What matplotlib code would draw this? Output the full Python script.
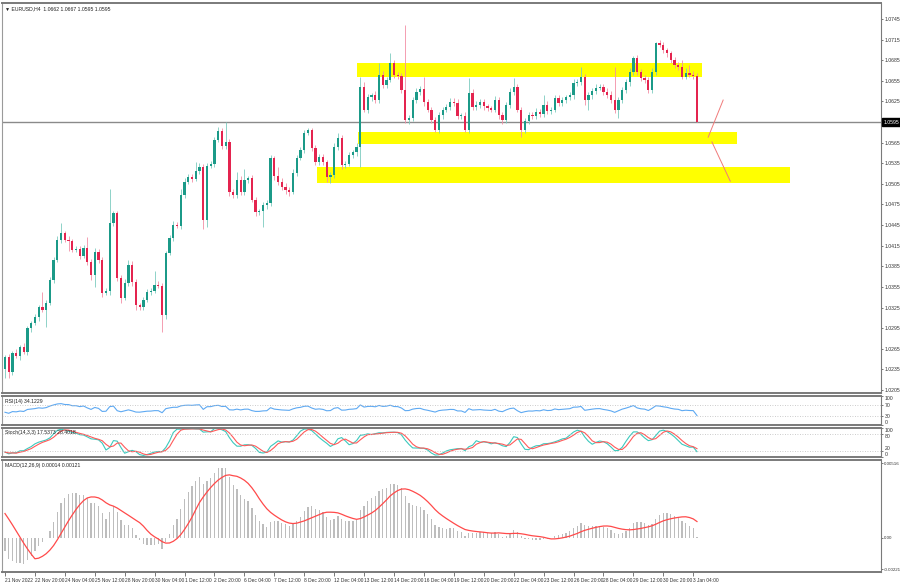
import numpy as np
import pandas as pd
import matplotlib
matplotlib.use("Agg")
import matplotlib.pyplot as plt
from matplotlib.patches import Rectangle

plt.rcParams["font.family"] = ["Liberation Sans", "DejaVu Sans"]

# EURUSD H4 closes, 21 Nov 2022 .. 3 Jan 2023
closes = [
    1.0253, 1.0231, 1.0259, 1.0254, 1.0267, 1.0260, 1.0295, 1.0302, 1.0311, 1.0326,
    1.0321, 1.0332, 1.0365, 1.0394, 1.0423, 1.0433, 1.0423, 1.0422, 1.0409, 1.0410,
    1.0400, 1.0412, 1.0391, 1.0372, 1.0406, 1.0394, 1.0346, 1.0349, 1.0448, 1.0463,
    1.0368, 1.0339, 1.0361, 1.0387, 1.0362, 1.0329, 1.0326, 1.0336, 1.0347, 1.0349,
    1.0358, 1.0357, 1.0314, 1.0404, 1.0426, 1.0445, 1.0444, 1.0489, 1.0508, 1.0515,
    1.0512, 1.0524, 1.0530, 1.0452, 1.0531, 1.0534, 1.0569, 1.0582, 1.0560, 1.0566,
    1.0493, 1.0489, 1.0511, 1.0493, 1.0511, 1.0513, 1.0482, 1.0464, 1.0465, 1.0474,
    1.0477, 1.0543, 1.0516, 1.0508, 1.0500, 1.0496, 1.0493, 1.0521, 1.0543, 1.0554,
    1.0579, 1.0583, 1.0557, 1.0537, 1.0544, 1.0537, 1.0515, 1.0518, 1.0559, 1.0572,
    1.0532, 1.0534, 1.0547, 1.0551, 1.0559, 1.0646, 1.0613, 1.0631, 1.0634, 1.0627,
    1.0663, 1.0649, 1.0656, 1.0681, 1.0663, 1.0662, 1.0642, 1.0598, 1.0601, 1.0627,
    1.0639, 1.0643, 1.0624, 1.0613, 1.0598, 1.0583, 1.0605, 1.0613, 1.0617, 1.0624,
    1.0623, 1.0604, 1.0604, 1.0583, 1.0637, 1.0617, 1.0620, 1.0624, 1.0618, 1.0615,
    1.0613, 1.0627, 1.0605, 1.0598, 1.0620, 1.0639, 1.0646, 1.0613, 1.0583, 1.0596,
    1.0605, 1.0604, 1.0610, 1.0607, 1.0620, 1.0611, 1.0613, 1.0630, 1.0623, 1.0627,
    1.0631, 1.0634, 1.0652, 1.0653, 1.0661, 1.0627, 1.0634, 1.0640, 1.0645, 1.0646,
    1.0639, 1.0634, 1.0627, 1.0613, 1.0627, 1.0642, 1.0653, 1.0668, 1.0688, 1.0668,
    1.0659, 1.0656, 1.0642, 1.0668, 1.0710, 1.0707, 1.0700, 1.0695, 1.0685, 1.0678,
    1.0675, 1.0661, 1.0666, 1.0663, 1.0662, 1.0595,
]
first_open = 1.0235

# wick lengths in pips above / below the candle body
upper_wick = [
    3, 4, 3, 5, 4, 6, 3, 4, 5, 3,
    21, 4, 5, 4, 6, 15, 3, 6, 3, 4,
    5, 4, 16, 4, 6, 4, 4, 5, 50, 3,
    3, 4, 6, 7, 6, 4, 3, 4, 5, 4,
    20, 5, 4, 4, 5, 6, 4, 8, 5, 4,
    4, 13, 5, 4, 5, 5, 4, 6, 5, 29,
    4, 5, 12, 5, 15, 4, 5, 4, 4, 5,
    4, 4, 3, 14, 5, 6, 4, 5, 4, 5,
    4, 4, 3, 4, 5, 4, 3, 4, 5, 7,
    4, 5, 4, 4, 5, 15, 8, 5, 4, 6,
    18, 6, 5, 14, 4, 5, 5, 94, 4, 4,
    5, 4, 18, 5, 4, 4, 5, 4, 4, 6,
    6, 5, 4, 5, 22, 6, 5, 4, 5, 4,
    4, 6, 5, 4, 4, 5, 13, 5, 4, 5,
    5, 4, 5, 4, 14, 5, 4, 4, 5, 4,
    4, 5, 6, 5, 14, 4, 5, 4, 5, 4,
    4, 5, 6, 48, 5, 4, 5, 5, 3, 4,
    4, 5, 4, 5, 2, 5, 4, 3, 4, 5,
    5, 10, 8, 12, 6, 5,
]
lower_wick = [
    12, 9, 4, 3, 5, 3, 4, 6, 3, 5,
    3, 24, 4, 5, 3, 4, 3, 14, 3, 3,
    4, 3, 4, 7, 17, 4, 6, 3, 6, 4,
    4, 7, 3, 4, 5, 8, 5, 4, 3, 4,
    3, 4, 24, 5, 3, 4, 3, 5, 4, 3,
    4, 3, 4, 12, 10, 3, 4, 3, 4, 4,
    6, 4, 5, 4, 4, 5, 4, 6, 5, 23,
    5, 4, 5, 4, 4, 5, 6, 3, 4, 3,
    4, 3, 4, 5, 4, 4, 7, 8, 4, 4,
    5, 4, 3, 4, 5, 29, 4, 5, 6, 4,
    4, 5, 4, 3, 4, 4, 4, 5, 6, 4,
    4, 4, 5, 4, 4, 3, 4, 5, 4, 4,
    4, 5, 4, 3, 4, 5, 4, 4, 5, 4,
    4, 4, 5, 6, 4, 4, 4, 4, 10, 4,
    4, 5, 4, 4, 5, 4, 4, 3, 4, 4,
    4, 4, 5, 4, 4, 7, 15, 5, 4, 4,
    5, 4, 4, 5, 12, 4, 4, 5, 4, 5,
    4, 4, 5, 4, 4, 3, 4, 5, 4, 4,
    4, 4, 4, 3, 4, 0,
]

price_ticks = [1.0745, 1.0715, 1.0685, 1.0655, 1.0625, 1.0565, 1.0535, 1.0505,
               1.0475, 1.0445, 1.0415, 1.0385, 1.0355, 1.0325, 1.0295, 1.0265,
               1.0235, 1.0205]
bid_price = 1.0595

time_labels = ["21 Nov 2022", "22 Nov 20:00", "24 Nov 04:00", "25 Nov 12:00",
               "28 Nov 20:00", "30 Nov 04:00", "1 Dec 12:00", "2 Dec 20:00",
               "6 Dec 04:00", "7 Dec 12:00", "8 Dec 20:00", "12 Dec 04:00",
               "13 Dec 12:00", "14 Dec 20:00", "16 Dec 04:00", "19 Dec 12:00",
               "20 Dec 20:00", "22 Dec 04:00", "23 Dec 12:00", "26 Dec 20:00",
               "28 Dec 04:00", "29 Dec 12:00", "30 Dec 20:00", "3 Jan 04:00"]
time_label_bars = list(range(0, 8 * len(time_labels), 8))

# support / resistance boxes: (first bar, last bar, low, high)
zones = [(94.1, 186.4, 1.0661, 1.0681),
         (94.4, 195.7, 1.0563, 1.0580),
         (83.4, 209.9, 1.0507, 1.0530)]
# projection strokes drawn right of the last candle
arrow_up = ([188.0, 192.0], [1.0573, 1.0627])
arrow_down = ([189.0, 193.9], [1.0566, 1.0509])

# indicator state carried in from bars before the first visible one
macd_seed_fast, macd_seed_slow, macd_seed_main = 1.0315, 1.0320, 0.0020
rsi_seed_gain, rsi_seed_loss = 0.0008, 0.0012
stoch_seed_high = 1.0400

# ---------------------------------------------------------------- build OHLC
c = np.array(closes)
o = np.concatenate([[first_open], c[:-1]])
h = np.maximum(o, c) + np.array(upper_wick) * 0.0001
l = np.minimum(o, c) - np.array(lower_wick) * 0.0001
n = len(c)
idx = np.arange(n)

# MACD 12/26/9 (MT4 style: main as histogram, SMA signal)
fast = np.empty(n)
slow = np.empty(n)
ef, es = macd_seed_fast, macd_seed_slow
for i in range(n):
    ef += (c[i] - ef) * 2 / 13
    es += (c[i] - es) * 2 / 27
    fast[i], slow[i] = ef, es
macd_main = fast - slow
padded = np.concatenate([[macd_seed_main] * 8, macd_main])
macd_signal = pd.Series(padded).rolling(9).mean().to_numpy()[8:]

# RSI 14 (Wilder)
rsi = np.empty(n)
ag, al = rsi_seed_gain, rsi_seed_loss
prev = first_open
for i in range(n):
    d = c[i] - prev
    ag = (ag * 13 + max(d, 0)) / 14
    al = (al * 13 + max(-d, 0)) / 14
    rsi[i] = 100 - 100 / (1 + ag / al)
    prev = c[i]

# Stochastic 14,3,3
hh = pd.Series(h).rolling(14, min_periods=1).max().to_numpy()
hh[:13] = np.maximum(hh[:13], stoch_seed_high)
ll = pd.Series(l).rolling(14, min_periods=1).min()
num = (pd.Series(c) - ll).rolling(3, min_periods=1).sum()
den = (pd.Series(hh) - ll).rolling(3, min_periods=1).sum()
stoch_k = (100 * num / den).to_numpy()
stoch_d = pd.Series(stoch_k).rolling(3, min_periods=1).mean().to_numpy()

# ---------------------------------------------------------------- figure
W, H = 900, 585
fig = plt.figure(figsize=(9, 5.85), dpi=100)
fig.patch.set_facecolor("white")
FS = 3.7


def panel(top, bottom):
    return fig.add_axes([2 / W, 1 - bottom / H, 879 / W, (bottom - top) / H])


ax = panel(3, 393)
ax_rsi = panel(396, 425)
ax_sto = panel(428, 457)
ax_macd = panel(460, 572)

xlim = (-0.8, 234.2)
for a in (ax, ax_rsi, ax_sto, ax_macd):
    a.set_xlim(*xlim)
    a.set_facecolor("white")
    for s in a.spines.values():
        s.set_color("#7a7a7a")
        s.set_linewidth(1.4)
    a.spines["left"].set_linewidth(0.8)
    a.spines["left"].set_color("#9a9a9a")
    a.spines["right"].set_linewidth(0.8)
    a.yaxis.tick_right()
    a.tick_params(axis="y", labelsize=FS, length=1.5, width=0.5, pad=1,
                  colors="#444444", labelcolor="#333333")
    a.tick_params(axis="x", bottom=False, labelbottom=False)

# candles
up_body, dn_body = "#1b9a88", "#e4244f"
up_wick, dn_wick = "#7ccbbf", "#f28ea5"
bull = c >= o
ax.vlines(idx[bull], l[bull], h[bull], color=up_wick, lw=0.6, zorder=2)
ax.vlines(idx[~bull], l[~bull], h[~bull], color=dn_wick, lw=0.6, zorder=2)
body_lo = np.minimum(o, c)
body_h = np.maximum(np.abs(c - o), 0.00006)
ax.bar(idx[bull], body_h[bull], bottom=body_lo[bull], width=0.6,
       color=up_body, linewidth=0, zorder=3)
ax.bar(idx[~bull], body_h[~bull], bottom=body_lo[~bull], width=0.6,
       color=dn_body, linewidth=0, zorder=3)

for x0, x1, lo, hi in zones:
    ax.add_patch(Rectangle((x0, lo), x1 - x0, hi - lo, facecolor="#ffff00",
                           edgecolor="none", zorder=1))

ax.axhline(bid_price, color="#8a8a8a", lw=1.0, zorder=1.5)
ax.plot(*arrow_up, color="#f07a7a", lw=0.7, zorder=4)
ax.plot(*arrow_down, color="#f07a7a", lw=0.7, zorder=4)

ax.set_ylim(1.02006, 1.07683)
ax.set_yticks(price_ticks)
ax.set_yticklabels([f"{p:.4f}" for p in price_ticks])
ax.text(1.003, bid_price, f"{bid_price:.4f}", transform=ax.get_yaxis_transform(),
        ha="left", va="center", fontsize=FS, color="white",
        bbox=dict(boxstyle="square,pad=0.25", fc="black", ec="black"),
        clip_on=False, zorder=6)
ax.text(0.003, 0.985, "\u25bc EURUSD,H4  1.0662 1.0667 1.0595 1.0595",
        transform=ax.transAxes, fontsize=FS, va="center", ha="left",
        color="#222222")


def edge_labels(a):
    # keep the end labels inside their window, as the terminal does
    labels = a.get_yticklabels()
    labels[0].set_va("top")
    labels[-1].set_va("bottom")


# RSI
ax_rsi.plot(idx, rsi, color="#5ea9f2", lw=0.8)
ax_rsi.set_ylim(0, 100)
for lv in (70, 30):
    ax_rsi.axhline(lv, color="#bbbbbb", lw=0.6, ls=(0, (1, 2)))
ax_rsi.set_yticks([100, 70, 30, 0])
ax_rsi.set_yticklabels(["100", "70", "30", "0"])
edge_labels(ax_rsi)
ax_rsi.text(0.003, 0.82, "RSI(14) 34.1229", transform=ax_rsi.transAxes,
            fontsize=FS, va="center", color="#222222")

# Stochastic
ax_sto.plot(idx, stoch_k, color="#3cc9bd", lw=0.8)
ax_sto.plot(idx, stoch_d, color="#ff5a5a", lw=0.8)
ax_sto.set_ylim(0, 100)
for lv in (80, 20):
    ax_sto.axhline(lv, color="#bbbbbb", lw=0.6, ls=(0, (1, 2)))
ax_sto.set_yticks([100, 80, 20, 0])
ax_sto.set_yticklabels(["100", "80", "20", "0"])
edge_labels(ax_sto)
ax_sto.get_yticklabels()[1].set_va("top")
ax_sto.get_yticklabels()[2].set_va("bottom")
ax_sto.text(0.003, 0.84, "Stoch(14,3,3) 17.5373 28.4018", transform=ax_sto.transAxes,
            fontsize=FS, va="center", color="#222222")

# MACD
ax_macd.bar(idx, macd_main, width=0.35, color="#bdbdbd", linewidth=0)
ax_macd.plot(idx, macd_signal, color="#ff4a4a", lw=0.9)
ax_macd.set_ylim(-0.0024, 0.0054)
ax_macd.set_yticks([0.00516, 0.0, -0.00221])
ax_macd.set_yticklabels(["0.00516", "0.00", "-0.00221"])
ax_macd.tick_params(axis="y", labelsize=3.2, pad=0.4)
ax_macd.text(0.003, 0.955, "MACD(12,26,9) 0.00014 0.00121", transform=ax_macd.transAxes,
             fontsize=FS, va="center", color="#222222")

ax_macd.set_xticks(time_label_bars)
ax_macd.set_xticklabels(time_labels, ha="left")
ax_macd.tick_params(axis="x", bottom=True, labelbottom=True, labelsize=3.5,
                    length=3, width=0.5, pad=1, colors="#444444",
                    labelcolor="#333333")

fig.savefig("out.png", dpi=100, facecolor="white")
